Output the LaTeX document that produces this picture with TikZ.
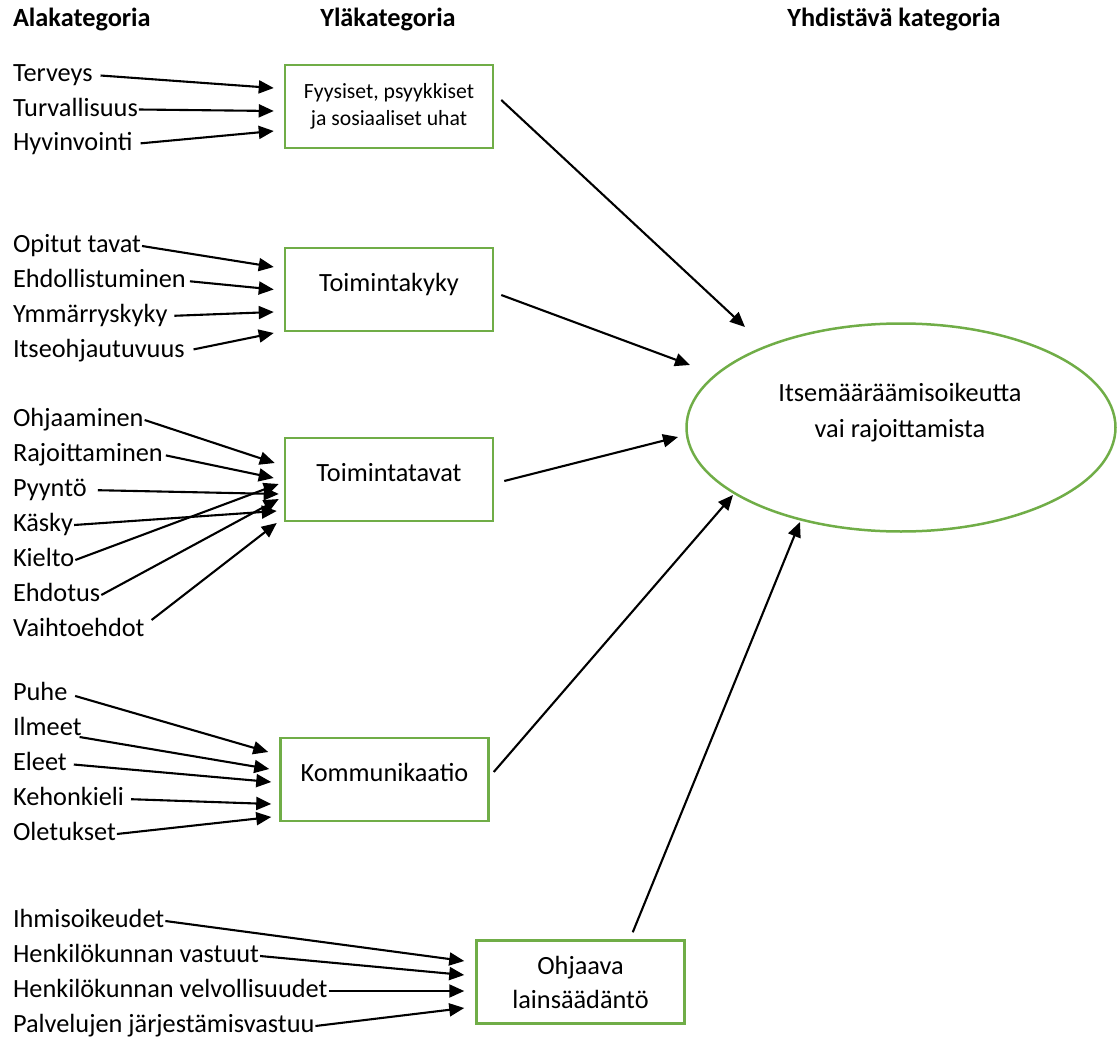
\documentclass[tikz,border=0pt]{standalone}
\usepackage{fontspec}
\setmainfont{Carlito}
\usetikzlibrary{positioning, arrows.meta, shapes.geometric}
\definecolor{catgreen}{RGB}{112,173,71}

\begin{document}
\begin{tikzpicture}[x=1pt, y=-1pt, ->, >={Triangle[length=15pt, width=13pt]}, line width=2.1pt,
    lbl/.style={anchor=west, inner sep=0pt, text height=18pt, text depth=5pt, font=\fontsize{26.3}{32}\selectfont},
    under/.style={below=35pt of #1, anchor=west},
    head/.style={inner sep=0pt, font=\bfseries\fontsize{26.3}{32}\selectfont},
    cat/.style={draw=catgreen, line width=2.5pt, minimum width=208pt, minimum height=83pt, align=center, font=\fontsize{26.3}{34}\selectfont},
    oneline/.style={text height=18pt, text depth=15pt},
    goal/.style={ellipse, draw=catgreen, line width=2.5pt, minimum width=429pt, minimum height=208pt}]
  \useasboundingbox (0,0) rectangle (1117,1041);

  % headers
  \node[head, anchor=west] (hala) at (12,20) {Alakategoria};
  \node[head] (hyla) at (388,20) {Yläkategoria};
  \node[head] (hyhd) at (894,20) {Yhdistävä kategoria};

  % categories
  \node[cat, font=\fontsize{21.7}{27}\selectfont] (fys) at (389,106.5) {Fyysiset, psyykkiset\\ja sosiaaliset uhat};
  \node[cat, oneline] (kyky) at (389,289.5) {Toimintakyky};
  \node[cat, oneline] (tavat) at (389,479.5) {Toimintatavat};
  \node[cat, oneline] (komm) at (384.5,779.5) {Kommunikaatio};
  \node[cat] (laki) at (580.5,982) {Ohjaava\\lainsäädäntö};
  \node[goal] (goal) at (901,427.5) {};
  \node[align=center, font=\fontsize{26.3}{36}\selectfont] (goaltxt) at (900,413) {Itsemääräämisoikeutta\\vai rajoittamista};

  % subcategories
  \node[lbl] (terv) at (12,75) {Terveys};
  \node[lbl, below=34.5pt of terv.west, anchor=west] (turv) {Turvallisuus};
  \node[lbl, below=34.5pt of turv.west, anchor=west] (hyvi) {Hyvinvointi};

  \node[lbl] (opit) at (12,246) {Opitut tavat};
  \node[lbl, under=opit.west] (ehdl) {Ehdollistuminen};
  \node[lbl, under=ehdl.west] (ymma) {Ymmärryskyky};
  \node[lbl, under=ymma.west] (itse) {Itseohjautuvuus};

  \node[lbl] (ohja) at (12,420) {Ohjaaminen};
  \node[lbl, under=ohja.west] (rajo) {Rajoittaminen};
  \node[lbl, under=rajo.west] (pyyn) {Pyyntö};
  \node[lbl, under=pyyn.west] (kask) {Käsky};
  \node[lbl, under=kask.west] (kiel) {Kielto};
  \node[lbl, under=kiel.west] (ehdo) {Ehdotus};
  \node[lbl, under=ehdo.west] (vaih) {Vaihtoehdot};

  \node[lbl] (puhe) at (12,694) {Puhe};
  \node[lbl, under=puhe.west] (ilme) {Ilmeet};
  \node[lbl, under=ilme.west] (elee) {Eleet};
  \node[lbl, under=elee.west] (keho) {Kehonkieli};
  \node[lbl, under=keho.west] (olet) {Oletukset};

  \node[lbl] (ihmi) at (12,921) {Ihmisoikeudet};
  \node[lbl, under=ihmi.west] (vast) {Henkilökunnan vastuut};
  \node[lbl, under=vast.west] (velv) {Henkilökunnan velvollisuudet};
  \node[lbl, under=velv.west] (palv) {Palvelujen järjestämisvastuu};

  \path (terv.east) edge[shorten <=7pt] ([shift={(-10,-18.5)}]fys.west)
        (turv.east) edge ([shift={(-10,4.5)}]fys.west)
        (hyvi.east) edge[shorten <=7pt] ([shift={(-10,24.5)}]fys.west)
        (opit.east) edge ([shift={(-10,-22.5)}]kyky.west)
        (ehdl.east) edge[shorten <=3pt] ([shift={(-10,0)}]kyky.west)
        (ymma.east) edge[shorten <=6pt] ([shift={(-10,22.5)}]kyky.west)
        (itse.east) edge[shorten <=8pt] ([shift={(-10,43.5)}]kyky.west)
        (ohja.east) edge ([shift={(-9,-16.5)}]tavat.west)
        (rajo.east) edge[shorten <=2pt] ([shift={(-10,-1.5)}]tavat.west)
        (pyyn.east) edge[shorten <=10pt] ([shift={(-5,14.5)}]tavat.west)
        (kask.east) edge ([shift={(-7,31.5)}]tavat.west)
        (kiel.east) edge ([shift={(-5,4.5)}]tavat.west)
        (ehdo.east) edge ([shift={(-5,19.5)}]tavat.west)
        ([shift={(6,-10)}]vaih.east) edge ([shift={(-7,43.5)}]tavat.west)
        (puhe.east) edge[shorten <=7pt] ([shift={(-11,-27.5)}]komm.west)
        ([shift={(-3,8)}]ilme.east) edge ([shift={(-10,-10.5)}]komm.west)
        (elee.east) edge[shorten <=6pt] ([shift={(-8,2.5)}]komm.west)
        (keho.east) edge[shorten <=6pt] ([shift={(-8,24.5)}]komm.west)
        (olet.east) edge ([shift={(-8,37.5)}]komm.west)
        (ihmi.east) edge ([shift={(-11,-21)}]laki.west)
        (vast.east) edge ([shift={(-11,-7)}]laki.west)
        (velv.east) edge ([shift={(-11,9)}]laki.west)
        (palv.east) edge ([shift={(-11,26)}]laki.west);

  \path ([shift={(7,-6.5)}]fys.east) edge ([shift={(-156,-100.5)}]goal.center)
        ([shift={(7,5.5)}]kyky.east) edge ([shift={(-211,-62.5)}]goal.center)
        ([shift={(10,1.5)}]tavat.east) edge ([shift={(-223,9.5)}]goal.center)
        ([shift={(4,-7.5)}]komm.east) edge ([shift={(-168,67.5)}]goal.center)
        ([shift={(-53,-7)}]laki.north east) edge ([shift={(-101,94.5)}]goal.center);
\end{tikzpicture}
\end{document}
